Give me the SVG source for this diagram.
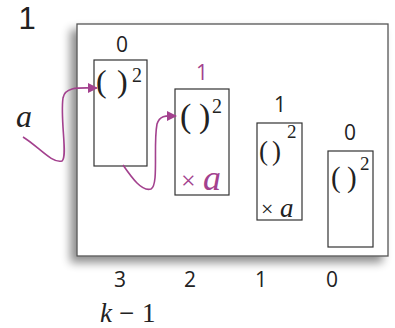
<svg xmlns="http://www.w3.org/2000/svg" width="395" height="328" viewBox="0 0 395 328">
<style>
.sans{font-family:"Open Sans","Noto Sans","Liberation Sans",sans-serif;fill:#222}
.ser{font-family:"Liberation Serif","DejaVu Serif",serif;fill:#222}
.it{font-style:italic}
.box{fill:#fff;stroke:#333;stroke-width:1.2}
.mag{fill:#a3418e}
.conn{fill:none;stroke:#a3418e;stroke-width:1.6}
</style>
<defs>
<filter id="sh" x="-20%" y="-20%" width="140%" height="140%">
<feGaussianBlur in="SourceAlpha" stdDeviation="5"/>
<feOffset dx="-6" dy="6"/>
<feComponentTransfer><feFuncA type="linear" slope="0.45"/></feComponentTransfer>
<feMerge><feMergeNode/><feMergeNode in="SourceGraphic"/></feMerge>
</filter>
<marker id="ah" markerWidth="10" markerHeight="10" refX="9" refY="5" orient="auto" markerUnits="userSpaceOnUse">
<path d="M0,0 L10,5 L0,10 Z" fill="#a3418e"/>
</marker>
</defs>
<text x="27" y="28.5" font-size="31" text-anchor="middle" font-family="'Liberation Sans',Arial,sans-serif" fill="#222">1</text>
<rect x="77" y="24" width="311" height="232" fill="#fff" stroke="#555" stroke-width="1.3" filter="url(#sh)"/>
<g id="node0">
<text class="sans" x="122" y="52" font-size="21" text-anchor="middle">0</text>
<rect class="box" x="94" y="60" width="53" height="106"/>
<text class="ser" x="96" y="92" font-size="32">(<tspan x="117">)</tspan></text>
<text class="ser" x="132" y="82" font-size="20">2</text>
</g>
<g id="node1">
<text class="sans mag" x="202" y="80" font-size="21" text-anchor="middle">1</text>
<rect class="box" x="175" y="89" width="54" height="106"/>
<text class="ser" x="180" y="127" font-size="34">(<tspan x="199">)</tspan></text>
<text class="ser" x="212" y="113" font-size="20">2</text>
<text class="ser mag" x="181" y="189" font-size="26">×</text>
<text class="ser it mag" x="203" y="190" font-size="36">a</text>
</g>
<g id="node2">
<text class="sans" x="280" y="112" font-size="21" text-anchor="middle">1</text>
<rect class="box" x="257" y="123" width="45" height="97"/>
<text class="ser" x="259" y="160" font-size="27">(<tspan x="272">)</tspan></text>
<text class="ser" x="287" y="138" font-size="19">2</text>
<text class="ser" x="261" y="216" font-size="22">×</text>
<text class="ser it" x="280" y="217" font-size="27">a</text>
</g>
<g id="node3">
<text class="sans" x="350" y="140" font-size="21" text-anchor="middle">0</text>
<rect class="box" x="328" y="151" width="45" height="96"/>
<text class="ser" x="331" y="187" font-size="29">(<tspan x="347">)</tspan></text>
<text class="ser" x="360" y="170" font-size="19">2</text>
</g>
<text class="ser it" x="16" y="127" font-size="32">a</text>
<g id="connectors">
<path class="conn" marker-end="url(#ah)" d="M23,137 C38,146 52,164 62,161 C68,157 60,120 63,98 C65,86 80,88 97,88"/>
<path class="conn" marker-end="url(#ah)" d="M123,165 C132,178 142,192 151,189 C159,185 153,145 157,124 C160,114 168,116 176,116"/>
</g>
<text class="sans" x="120" y="287" font-size="21" text-anchor="middle">3</text>
<text class="sans" x="190" y="287" font-size="21" text-anchor="middle">2</text>
<text class="sans" x="261" y="287" font-size="21" text-anchor="middle">1</text>
<text class="sans" x="332" y="287" font-size="21" text-anchor="middle">0</text>
<text class="ser" x="100" y="322" font-size="27"><tspan font-style="italic">k</tspan><tspan x="119">−</tspan><tspan x="142">1</tspan></text>
</svg>
